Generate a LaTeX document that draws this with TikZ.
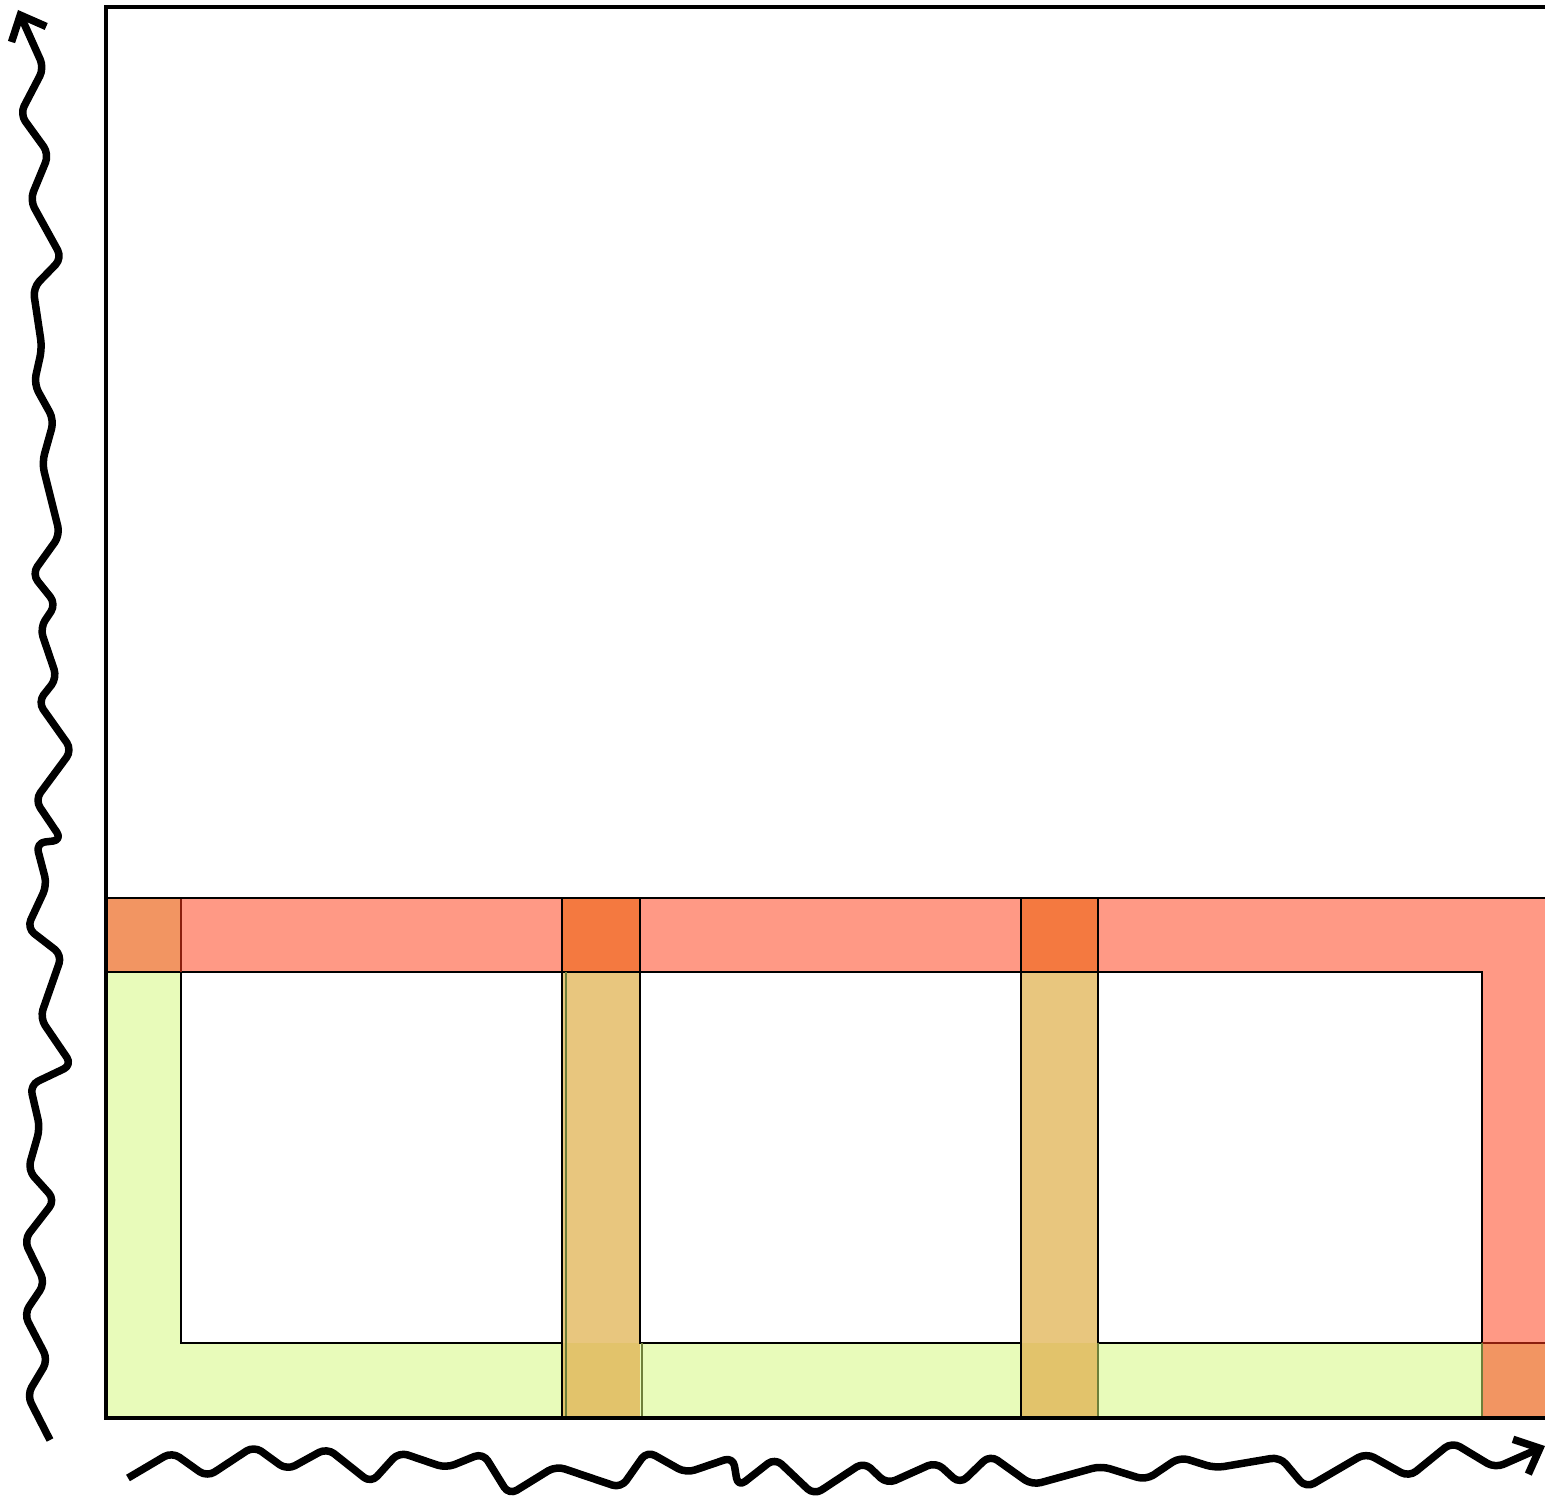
\documentclass[tikz,border=0pt]{standalone}
\usetikzlibrary{arrows.meta}
\definecolor{bandred}{HTML}{FF9985}
\definecolor{bandgreen}{HTML}{E8FBBA}
\definecolor{cornerorange}{HTML}{F29562}
\definecolor{junctionorange}{HTML}{F47940}
\definecolor{columntan}{HTML}{E8C67E}
\definecolor{junctiontan}{HTML}{E2C36B}
\definecolor{edgered}{HTML}{8A1E0E}
\definecolor{edgeolive}{HTML}{6E7F3A}
\tikzset{
  thinedge/.style={draw=black, line width=2pt},
  redge/.style={draw=edgered, line width=2pt},
  oedge/.style={draw=edgeolive, line width=1.6pt},
  frame/.style={draw=black, line width=4pt},
  wavy/.style={draw=black, line width=7.5pt, line join=round, rounded corners=9pt,
    -{Straight Barb[length=21pt,width=38pt,line cap=butt]}},
}
\begin{document}
\begin{tikzpicture}[x=1pt,y=-1pt]
\clip (0,0) rectangle (1545,1498);
\fill[white] (0,0) rectangle (1545,1498);
% coloured bands
\fill[bandred] (106,898) rectangle (1560,972);
\fill[bandred] (1482,972) rectangle (1560,1418);
\fill[bandgreen] (106,972) rectangle (181,1418);
\fill[bandgreen] (181,1343) rectangle (1482,1418);
\fill[cornerorange] (106,898) rectangle (181,972);
\fill[cornerorange] (1482,1343) rectangle (1560,1418);
\foreach \a/\b in {562/640,1021/1098}{
  \fill[junctionorange] (\a,898) rectangle (\b,972);
  \fill[columntan] (\a,972) rectangle (\b,1343);
  \fill[junctiontan] (\a,1343) rectangle (\b,1418);
}
% inner tiles
\draw[thinedge] (181,972) rectangle (562,1343);
\draw[thinedge] (640,972) rectangle (1021,1343);
\draw[thinedge] (1098,972) rectangle (1482,1343);
\draw[thinedge] (106,972) -- (1482,972);
\draw[thinedge] (562,898) -- (562,1418);
\draw[thinedge] (1021,898) -- (1021,1418);
\draw[thinedge] (640,898) -- (640,972);
\draw[thinedge] (1098,898) -- (1098,972);
\draw[redge] (181,898) -- (181,972);
\draw[redge] (1482,1343) -- (1560,1343);
\draw[oedge] (566,972) -- (566,1418);
\draw[oedge] (642,1343) -- (642,1418);
\draw[oedge] (1098,1343) -- (1098,1418);
\draw[oedge] (1482,1343) -- (1482,1418);
\draw[black, line width=2.6pt] (106,898) -- (1560,898);
% outer frame
\draw[frame] (1560,7) -- (106,7) -- (106,1418) -- (1560,1418);
% wavy vertical axis
\draw[wavy] (50,1440) -- (27,1395) -- (48,1360) -- (24,1314) -- (45,1283) -- (24,1240)
  -- (55,1200) -- (28,1170) -- (40,1128) -- (30,1085) -- (72,1065) -- (40,1018)
  -- (62,955) -- (27,928) -- (47,885) -- (36,843) -- (62,840) -- (35,800)
  -- (72,750) -- (38,702) -- (57,678) -- (40,628) -- (56,604) -- (32,574)
  -- (60,535) -- (42,463) -- (54,420) -- (34,384) -- (42,348) -- (33,288)
  -- (62,258) -- (30,200) -- (49,154) -- (20,114) -- (44,68) -- (18,10);
% wavy horizontal axis
\draw[wavy] (128,1478) -- (172,1452) -- (207,1477) -- (254,1446) -- (287,1470)
  -- (327,1448) -- (371,1483) -- (399,1452) -- (446,1468) -- (483,1453)
  -- (509,1495) -- (556,1466) -- (621,1488) -- (647,1451) -- (686,1473)
  -- (733,1457) -- (738,1487) -- (775,1458) -- (814,1495) -- (864,1462)
  -- (887,1484) -- (936,1462) -- (960,1484) -- (990,1455) -- (1032,1485)
  -- (1101,1466) -- (1146,1480) -- (1180,1457) -- (1215,1468) -- (1280,1457)
  -- (1306,1488) -- (1366,1453) -- (1409,1477) -- (1452,1442) -- (1495,1468)
  -- (1545,1446);
\end{tikzpicture}
\end{document}
